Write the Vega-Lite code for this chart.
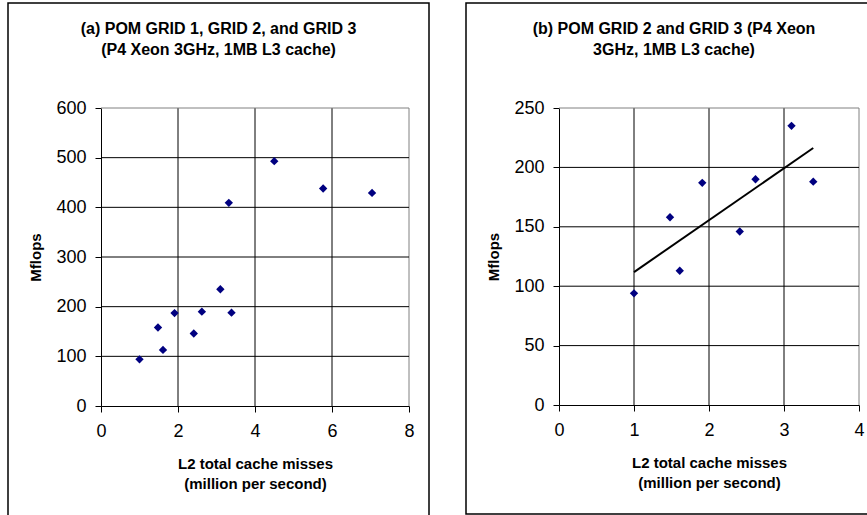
{
  "$schema": "https://vega.github.io/schema/vega-lite/v6.json",
  "padding": {"left": 7, "top": 2, "right": 0, "bottom": 0},
  "background": "white",
  "bounds": "flush",
  "spacing": 37,
  "datasets": {
    "grid23": [
      {"misses": 1.00, "mflops": 94},
      {"misses": 1.48, "mflops": 158},
      {"misses": 1.61, "mflops": 113},
      {"misses": 1.91, "mflops": 187},
      {"misses": 2.41, "mflops": 146},
      {"misses": 2.62, "mflops": 190},
      {"misses": 3.10, "mflops": 235},
      {"misses": 3.39, "mflops": 188}
    ],
    "grid1": [
      {"misses": 3.32, "mflops": 409},
      {"misses": 4.50, "mflops": 493},
      {"misses": 5.77, "mflops": 438},
      {"misses": 7.04, "mflops": 429}
    ],
    "vgridA": [{"v": 2}, {"v": 4}, {"v": 6}],
    "hgridA": [{"v": 100}, {"v": 200}, {"v": 300}, {"v": 400}, {"v": 500}],
    "vborderA": [{"v": 8}],
    "hborderA": [{"v": 600}],
    "vgridB": [{"v": 1}, {"v": 2}, {"v": 3}],
    "hgridB": [{"v": 50}, {"v": 100}, {"v": 150}, {"v": 200}],
    "vborderB": [{"v": 4}],
    "hborderB": [{"v": 250}]
  },
  "hconcat": [
    {
      "width": 421,
      "height": 520,
      "title": {
        "text": ["(a) POM GRID 1, GRID 2, and GRID 3", "(P4 Xeon 3GHz, 1MB L3 cache)"],
        "dy": 59
      },
      "layer": [
        {
          "data": {"name": "vgridA"},
          "mark": {"type": "rule", "color": "black", "strokeWidth": 1},
          "encoding": {
            "x": {"field": "v", "type": "quantitative", "scale": {"domain": [0, 8], "range": [93, 401], "nice": false, "zero": false}},
            "y": {"datum": 0, "type": "quantitative", "scale": {"domain": [0, 600], "range": [403, 105], "nice": false, "zero": false}},
            "y2": {"datum": 600}
          }
        },
        {
          "data": {"name": "vborderA"},
          "mark": {"type": "rule", "color": "#808080", "strokeWidth": 1},
          "encoding": {
            "x": {"field": "v", "type": "quantitative"},
            "y": {"datum": 0, "type": "quantitative"},
            "y2": {"datum": 600}
          }
        },
        {
          "data": {"name": "hgridA"},
          "mark": {"type": "rule", "color": "black", "strokeWidth": 1},
          "encoding": {
            "y": {"field": "v", "type": "quantitative"},
            "x": {"datum": 0, "type": "quantitative"},
            "x2": {"datum": 8}
          }
        },
        {
          "data": {"name": "hborderA"},
          "mark": {"type": "rule", "color": "#808080", "strokeWidth": 1},
          "encoding": {
            "y": {"field": "v", "type": "quantitative"},
            "x": {"datum": 0, "type": "quantitative"},
            "x2": {"datum": 8}
          }
        },
        {
          "data": {"name": "grid1"},
          "mark": {"type": "point", "shape": "diamond", "filled": true, "color": "#000080", "size": 70, "opacity": 1},
          "encoding": {
            "x": {"field": "misses", "type": "quantitative"},
            "y": {"field": "mflops", "type": "quantitative"}
          }
        },
        {
          "data": {"name": "grid23"},
          "mark": {"type": "point", "shape": "diamond", "filled": true, "color": "#000080", "size": 70, "opacity": 1},
          "encoding": {
            "x": {
              "field": "misses", "type": "quantitative",
              "scale": {"domain": [0, 8], "range": [93, 401], "nice": false, "zero": false},
              "axis": {"values": [0, 2, 4, 6, 8], "format": "d", "offset": -117, "title": ["L2 total cache misses", "(million per second)"], "titlePadding": 16, "labelPadding": 10}
            },
            "y": {
              "field": "mflops", "type": "quantitative",
              "scale": {"domain": [0, 600], "range": [403, 105], "nice": false, "zero": false},
              "axis": {"values": [0, 100, 200, 300, 400, 500, 600], "format": "d", "offset": -93, "title": "Mflops", "titlePadding": 12, "labelPadding": 9}
            }
          }
        }
      ]
    },
    {
      "width": 416,
      "height": 511,
      "title": {
        "text": ["(b) POM GRID 2 and GRID 3 (P4 Xeon", "3GHz, 1MB L3 cache)"],
        "dy": 59
      },
      "layer": [
        {
          "data": {"name": "vgridB"},
          "mark": {"type": "rule", "color": "black", "strokeWidth": 1},
          "encoding": {
            "x": {"field": "v", "type": "quantitative", "scale": {"domain": [0, 4], "range": [93, 393], "nice": false, "zero": false}},
            "y": {"datum": 0, "type": "quantitative", "scale": {"domain": [0, 250], "range": [402, 105], "nice": false, "zero": false}},
            "y2": {"datum": 250}
          }
        },
        {
          "data": {"name": "vborderB"},
          "mark": {"type": "rule", "color": "#808080", "strokeWidth": 1},
          "encoding": {
            "x": {"field": "v", "type": "quantitative"},
            "y": {"datum": 0, "type": "quantitative"},
            "y2": {"datum": 250}
          }
        },
        {
          "data": {"name": "hgridB"},
          "mark": {"type": "rule", "color": "black", "strokeWidth": 1},
          "encoding": {
            "y": {"field": "v", "type": "quantitative"},
            "x": {"datum": 0, "type": "quantitative"},
            "x2": {"datum": 4}
          }
        },
        {
          "data": {"name": "hborderB"},
          "mark": {"type": "rule", "color": "#808080", "strokeWidth": 1},
          "encoding": {
            "y": {"field": "v", "type": "quantitative"},
            "x": {"datum": 0, "type": "quantitative"},
            "x2": {"datum": 4}
          }
        },
        {
          "data": {"name": "grid23"},
          "transform": [{"regression": "mflops", "on": "misses"}],
          "mark": {"type": "line", "color": "black", "strokeWidth": 2},
          "encoding": {
            "x": {"field": "misses", "type": "quantitative"},
            "y": {"field": "mflops", "type": "quantitative"}
          }
        },
        {
          "data": {"name": "grid23"},
          "mark": {"type": "point", "shape": "diamond", "filled": true, "color": "#000080", "size": 70, "opacity": 1},
          "encoding": {
            "x": {
              "field": "misses", "type": "quantitative",
              "scale": {"domain": [0, 4], "range": [93, 393], "nice": false, "zero": false},
              "axis": {"values": [0, 1, 2, 3, 4], "format": "d", "offset": -109, "title": ["L2 total cache misses", "(million per second)"], "titlePadding": 16, "labelPadding": 10}
            },
            "y": {
              "field": "mflops", "type": "quantitative",
              "scale": {"domain": [0, 250], "range": [402, 105], "nice": false, "zero": false},
              "axis": {"values": [0, 50, 100, 150, 200, 250], "format": "d", "offset": -93, "title": "Mflops", "titlePadding": 12, "labelPadding": 9}
            }
          }
        }
      ]
    }
  ],
  "config": {
    "font": "Liberation Sans",
    "view": {"stroke": "black", "strokeWidth": 1.5, "fill": "white"},
    "title": {
      "font": "Liberation Sans",
      "fontSize": 16,
      "fontWeight": "bold",
      "color": "black",
      "anchor": "middle",
      "frame": "group",
      "baseline": "top",
      "offset": 0,
      "lineHeight": 21
    },
    "axis": {
      "grid": false,
      "labelFont": "Liberation Sans",
      "labelFontSize": 18,
      "labelColor": "black",
      "labelFlush": false,
      "labelOverlap": false,
      "labelAngle": 0,
      "tickColor": "black",
      "tickSize": 6,
      "tickWidth": 1,
      "domainColor": "black",
      "domainWidth": 1,
      "titleFont": "Liberation Sans",
      "titleFontSize": 15,
      "titleFontWeight": "bold",
      "titleColor": "black",
      "titleLineHeight": 20
    }
  }
}
